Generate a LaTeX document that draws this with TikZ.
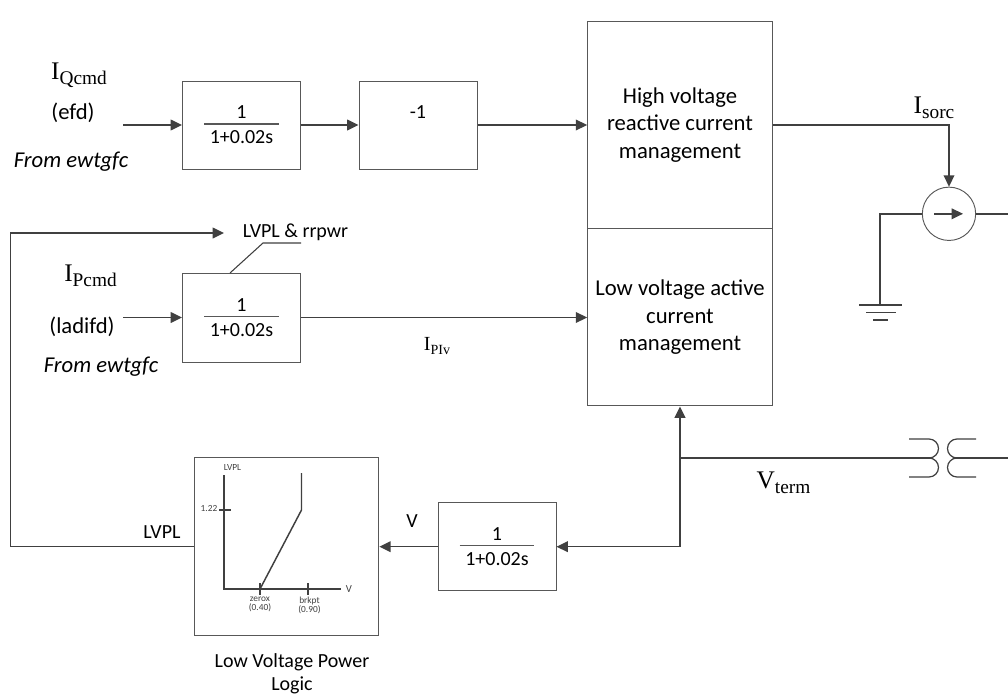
\documentclass[tikz,border=0pt]{standalone}
\usepackage{fontspec}
\setmainfont{Carlito}
\newfontfamily\symfont{Liberation Serif}
\usetikzlibrary{arrows.meta}
\definecolor{linecol}{HTML}{404040}
\definecolor{boxcol}{HTML}{585858}
\newcommand{\isub}[2]{{\symfont\fontsize{19}{19}\selectfont #1\raisebox{-4pt}{\fontsize{14.5}{14.5}\selectfont #2}}}
\newcommand{\isubs}[2]{{\symfont\fontsize{15}{15}\selectfont #1\raisebox{-3pt}{\fontsize{10.5}{10.5}\selectfont #2}}}
\newcommand{\lagfrac}{1\\[-10.7pt]\textcolor{boxcol}{\rule{56pt}{0.8pt}}\\[-0.5pt]1+0.02s}
\tikzset{
	sig/.style={draw=linecol, line width=1.1pt, -{Triangle[length=8.5pt,width=8pt]}},
	wire/.style={draw=linecol, line width=1.1pt},
	block/.style={draw=boxcol, line width=0.75pt, fill=white, align=center, inner sep=0pt, font=\fontsize{15}{15}\selectfont},
	mgmt/.style={block, minimum width=138.5pt, font=\fontsize{17}{20.6}\selectfont},
	lbl/.style={inner sep=0pt, align=center, font=\fontsize{15}{17}\selectfont},
	inlbl/.style={lbl, font=\fontsize{17}{17}\selectfont},
	tiny/.style={inner sep=0pt, align=center, font=\fontsize{7}{6.75}\selectfont, text=linecol}
}
\begin{document}
\begin{tikzpicture}[x=0.75pt,y=-0.75pt]

	%Background
	\path[use as bounding box, fill=white] (0,0) rectangle (1008,696);

	%Lag blocks
	\node[block, minimum width=88.5pt, minimum height=66pt] (lagq) at (241.5,125) {\lagfrac};
	\node[block, minimum width=88.5pt, minimum height=66pt] (neg) at (418,125) {};
	\node[lbl] (negtxt) at (418,112) {-1};
	\node[block, minimum width=88.5pt, minimum height=66.75pt] (lagp) at (241.5,317.5) {\lagfrac};
	\node[block, minimum width=88.5pt, minimum height=66pt] (lagv) at (497,546.7) {\lagfrac};

	%Current management
	\node[mgmt, minimum height=155pt] (hv) at (680,125) {High voltage\\reactive current\\management};
	\node[mgmt, minimum height=133pt] (lv) at (680,317.3) {Low voltage active\\current\\management};

	%Low voltage power logic
	\node[block, minimum width=138.5pt, minimum height=133.5pt] (logic) at (286.5,546.7) {};
	\node[lbl] (logictxt) at (292,674) {Low Voltage Power\\Logic};
	\coordinate (orig) at (224,589);
	\coordinate (ytop) at (224,475);
	\coordinate (xend) at (341,589);
	\coordinate (zero) at (260,589);
	\coordinate (knee) at (301.5,510);
	\coordinate (ktop) at (301.5,473);
	\draw[wire] (ytop) -- (orig) -- (xend);
	\draw[wire] (zero) -- (knee) -- (ktop);
	\draw[wire] (219,510) -- (231,510);
	\draw[wire] (260,583) -- (260,595);
	\draw[wire] (308,583) -- (308,595);
	\node[tiny] (ttop) at (232.5,468) {LVPL};
	\node[tiny] (tval) at (209,509) {1.22};
	\node[tiny, font=\fontsize{8}{8}\selectfont] (tv) at (349,589) {V};
	\node[tiny] (tzero) at (260,604) {zerox\\(0.40)};
	\node[tiny] (tbrk) at (309.5,605) {brkpt\\(0.90)};

	%Inputs
	\node[inner sep=0pt] (iq) at (79,75) {\isub{I}{Qcmd}};
	\node[inlbl] (efd) at (73,113) {(efd)};
	\node[inlbl] (fromq) at (71,162) {\itshape From ewtgfc};
	\coordinate (inq) at (123,125);
	\node[inner sep=0pt] (ip) at (90.5,276) {\isub{I}{Pcmd}};
	\node[inlbl] (ladifd) at (82,327) {(ladifd)};
	\node[inlbl] (fromp) at (101,367) {\itshape From ewtgfc};
	\coordinate (inp) at (123,317.5);

	%Signals
	\draw[sig] (inq) -- (lagq);
	\draw[sig] (lagq) -- (neg);
	\draw[sig] (neg) -- (hv.west);
	\draw[sig] (inp) -- (lagp);
	\draw[sig] (lagp) -- (lagp-|lv.west);
	\node[inner sep=0pt] (iplv) at (437,346) {\isubs{I}{PIv}};

	%LVPL limit
	\coordinate (lvlim) at (224,233);
	\coordinate (lvcorn) at (10.5,233);
	\coordinate (leada) at (263,243);
	\coordinate (leadb) at (301,243);
	\coordinate (leadc) at (230,273);
	\node[lbl] (lvrr) at (295.5,232) {LVPL \& rrpwr};
	\node[lbl] (lvout) at (162,532) {LVPL};
	\draw[sig] (logic.west) -| (lvcorn) -- (lvlim);
	\draw[wire, line width=0.8pt] (leadc) -- (leada) -- (leadb);

	%Voltage feedback
	\coordinate (vjoin) at (680,546.7);
	\coordinate (vtap) at (680,458);
	\draw[sig] (vjoin) -- (lv.south);
	\draw[sig] (vjoin) -- (lagv.east);
	\draw[sig] (lagv.west) -- (logic.east);
	\node[lbl] (vlab) at (412,521) {V};
	\node[inner sep=0pt] (vterm) at (783.5,483) {\isub{V}{term}};

	%Current source
	\node[draw=boxcol, line width=0.7pt, circle, minimum size=40pt, inner sep=0pt] (src) at (949,213.8) {};
	\draw[sig] (hv.east) -| (src.north);
	\node[inner sep=0pt] (isorc) at (934,108) {\isub{I}{sorc}};
	\draw[sig] ([xshift=-11.25pt]src.center) -- ([xshift=10.5pt]src.center);
	\coordinate (srcout) at (1008,213.8);
	\draw[wire] (src.east) -- (srcout);

	%Ground
	\coordinate (gnd) at (880,305);
	\draw[wire] (src.west) -| (gnd);
	\draw[wire] (859,305) -- (902,305);
	\draw[wire] (866,312.5) -- (896,312.5);
	\draw[wire] (873,320) -- (888,320);

	%Transformer
	\coordinate (tapl) at (933,458);
	\coordinate (tapr) at (953,458);
	\coordinate (vout) at (1008,458);
	\draw[wire] (vtap) -- (tapl);
	\draw[wire] (tapr) -- (vout);
	\draw[wire, line width=0.9pt] (909,439) -- (929,439) arc[start angle=-90,end angle=90,radius=9.5] arc[start angle=-90,end angle=90,radius=9.5] -- (909,477);
	\draw[wire, line width=0.9pt] (976,439) -- (957,439) arc[start angle=-90,end angle=-270,radius=9.5] arc[start angle=-90,end angle=-270,radius=9.5] -- (976,477);

\end{tikzpicture}
\end{document}
